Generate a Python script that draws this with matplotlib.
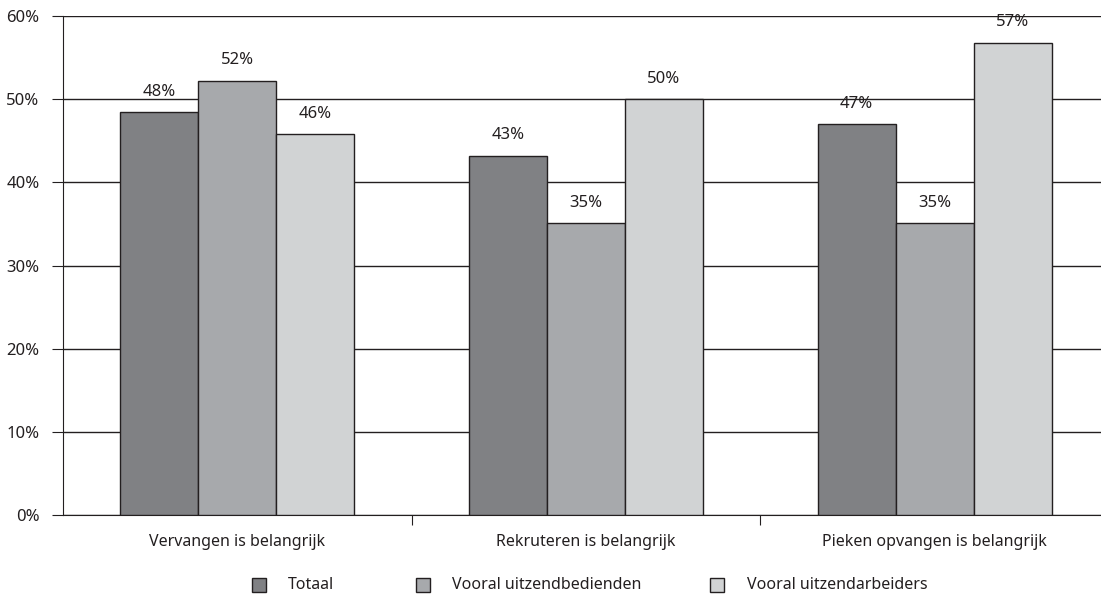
import numpy as np
import matplotlib.pyplot as plt
from matplotlib.patches import Rectangle

categories = ["Vervangen is belangrijk", "Rekruteren is belangrijk", "Pieken opvangen is belangrijk"]
series_names = ["Totaal", "Vooral uitzendbedienden", "Vooral uitzendarbeiders"]
totaal = [48.4, 43.2, 47.0]
bedienden = [52.2, 35.1, 35.1]
arbeiders = [45.8, 50.0, 56.8]
labels = [["48%", "43%", "47%"], ["52%", "35%", "35%"], ["46%", "50%", "57%"]]
colors = ["#808184", "#a7a9ac", "#d1d3d4"]

plt.rcParams['font.family'] = ['Noto Sans', 'DejaVu Sans']

W, H = 1101, 594
fig = plt.figure(figsize=(W / 100, H / 100), dpi=100)
ax = fig.add_axes([63 / W, 79 / H, 1 - 63 / W, 499 / H])

x = np.arange(len(categories))
w = 0.2237
for i, vals in enumerate([totaal, bedienden, arbeiders]):
    pos = x + (i - 1) * w
    ax.bar(pos, vals, width=w, color=colors[i], edgecolor="#231f20",
           linewidth=1.0, zorder=3)
    for p, v, lab in zip(pos, vals, labels[i]):
        ax.annotate(lab, (p, v), xytext=(0, 9), textcoords="offset points",
                    ha="center", va="bottom", fontsize=12, color="#231f20")

ax.set_ylim(0, 60)
ax.set_xlim(-0.5, -0.5 + 1038 / 348.7)
ax.set_yticks(np.arange(0, 61, 10))
ax.set_yticklabels([f"{v}%" for v in range(0, 61, 10)], fontsize=12, color="#231f20")
ax.yaxis.grid(True, color="#231f20", linewidth=1.0, zorder=0)
ax.set_axisbelow(True)

ax.set_xticks([0.5, 1.5])
ax.set_xticklabels([])
ax.set_xticks(x, minor=True)
ax.set_xticklabels(categories, minor=True, fontsize=11.5, color="#231f20")
ax.tick_params(axis="x", which="minor", length=0, pad=14)
ax.tick_params(axis="x", which="major", length=7, color="#231f20", direction="out")
ax.tick_params(axis="y", length=8, color="#231f20", direction="out", pad=9)

for s in ["top", "right"]:
    ax.spines[s].set_visible(False)
ax.spines["left"].set_color("#231f20")
ax.spines["bottom"].set_color("#231f20")

# legend, placed by hand like the original
marker_x = [252, 416, 710]
text_x = [288, 452, 747]
leg_y = 585
for c, name, mx, tx in zip(colors, series_names, marker_x, text_x):
    fig.add_artist(Rectangle((mx / W, (H - leg_y - 7) / H), 14 / W, 14 / H,
                             transform=fig.transFigure, facecolor=c,
                             edgecolor="#231f20", linewidth=1.0))
    fig.text(tx / W, (H - leg_y) / H, name, ha="left", va="center",
             fontsize=11.5, color="#231f20")

fig.savefig("out.png", dpi=100)
